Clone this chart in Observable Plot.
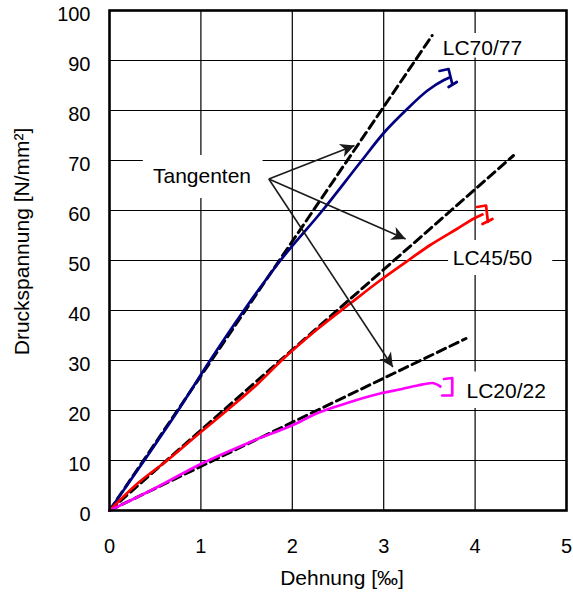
<!DOCTYPE html>
<html>
<head>
<meta charset="utf-8">
<script src="https://cdn.jsdelivr.net/npm/d3@7"></script>
<script src="https://cdn.jsdelivr.net/npm/@observablehq/plot@0.6"></script>
<style>
  body { margin: 0; background: #fff; }
  #chart svg { display: block; }
</style>
</head>
<body>
<div id="chart"></div>
<script>
// ---------- data ----------
const xTicks = [0, 1, 2, 3, 4, 5];
const yTicks = [0, 10, 20, 30, 40, 50, 60, 70, 80, 90, 100];
const xTitle = "Dehnung [‰]";
const yTitle = "Druckspannung [N/mm²]";

const seriesNames = ["LC70/77", "LC45/50", "LC20/22"];
const seriesColors = ["#000080", "#ff0000", "#ff00ff"];

// measured stress-strain curves
const lc70Strain = [0, 0.38, 0.75, 1.1, 1.47, 1.87, 2.33, 2.76, 3.0, 3.24, 3.48, 3.66, 3.72];
const lc70Stress = [0, 10, 20, 30, 40, 50, 60, 70, 75.5, 80, 84, 86.1, 86.6];
const lc45Strain = [0, 0.30, 0.63, 1.0, 1.29, 1.62, 1.87, 2.27, 2.64, 2.96, 3.29, 3.51, 3.80, 4.02, 4.08];
const lc45Stress = [0, 5.3, 10, 15.7, 20.1, 25.3, 29.8, 36.2, 41.5, 46.0, 50.3, 53.1, 56.3, 58.7, 59.2];
const lc20Strain = [0, 0.45, 1.0, 1.54, 2.09, 2.24, 2.6, 2.96, 3.2, 3.37, 3.53, 3.62];
const lc20Stress = [0, 4, 9.3, 13.7, 17.8, 19.2, 21.5, 23.4, 24.3, 25.0, 25.5, 24.8];

// end brackets of the curves (main hook and bottom tab)
const lc70HookStrain = [3.61, 3.71, 3.75];
const lc70HookStress = [87.9, 88.3, 85.3];
const lc70TabStrain = [3.71, 3.80];
const lc70TabStress = [84.7, 85.7];
const lc45HookStrain = [4.02, 4.12, 4.14];
const lc45HookStress = [60.7, 61.0, 57.7];
const lc45TabStrain = [4.08, 4.19];
const lc45TabStress = [57.3, 58.3];
const lc20HookStrain = [3.66, 3.75, 3.75, 3.64];
const lc20HookStress = [26.3, 26.5, 23.0, 23.0];

// tangents (start, end)
const tangentStrain = [[0, 3.53], [0, 4.42], [0, 3.90]];
const tangentStress = [[0, 95], [0, 71], [0, 34.4]];

// annotation "Tangenten" with arrows
const annText = "Tangenten";
const annAt = [1.012, 66.9];
const arrowFrom = [1.743, 66.3];
const arrowTipStrain = [2.68, 3.24, 3.10];
const arrowTipStress = [73, 54.3, 28.7];

// series labels
const labelStrain = [4.08, 4.19, 4.34];
const labelStress = [92.5, 50.5, 23.8];
// white boxes behind labels (x1, x2, y1, y2)
const boxX1 = [0.37, 3.6, 3.71, 3.85];
const boxX2 = [1.68, 4.6, 4.85, 4.85];
const boxY1 = [62.4, 90.5, 47, 20.4];
const boxY2 = [71, 95.4, 54, 27.7];

// ---------- build tables ----------
const zip = (xs, ys, extra) => xs.map((x, i) => ({x, y: ys[i], ...extra}));
const curves = [
  ...zip(lc70Strain, lc70Stress, {series: seriesNames[0]}),
  ...zip(lc45Strain, lc45Stress, {series: seriesNames[1]}),
  ...zip(lc20Strain, lc20Stress, {series: seriesNames[2]})
];
const hooks = [
  ...zip(lc70HookStrain, lc70HookStress, {series: seriesNames[0], part: "a70"}),
  ...zip(lc70TabStrain, lc70TabStress, {series: seriesNames[0], part: "b70"}),
  ...zip(lc45HookStrain, lc45HookStress, {series: seriesNames[1], part: "a45"}),
  ...zip(lc45TabStrain, lc45TabStress, {series: seriesNames[1], part: "b45"}),
  ...zip(lc20HookStrain, lc20HookStress, {series: seriesNames[2], part: "a20"})
];
const tangents = tangentStrain.flatMap((xs, i) => zip(xs, tangentStress[i], {series: seriesNames[i]}));
const labels = seriesNames.map((s, i) => ({x: labelStrain[i], y: labelStress[i], text: s}));
const boxes = boxX1.map((_, i) => ({x1: boxX1[i], x2: boxX2[i], y1: boxY1[i], y2: boxY2[i]}));

// ---------- layout ----------
const W = 573, H = 594, ML = 109, MR = 7, MT = 10, MB = 84;
const kx = (W - ML - MR) / (xTicks[xTicks.length - 1] - xTicks[0]);
const ky = (H - MT - MB) / (yTicks[yTicks.length - 1] - yTicks[0]);
const arrows = arrowTipStrain.map((tx, i) => {
  const sx = (tx - arrowFrom[0]) * kx;
  const sy = -(arrowTipStress[i] - arrowFrom[1]) * ky;
  return {x1: arrowFrom[0], y1: arrowFrom[1], x2: tx, y2: arrowTipStress[i],
          angle: Math.atan2(sx, -sy) * 180 / Math.PI};
});

// filled barbed arrow head, tip at the origin pointing up
const arrowHead = {
  draw(ctx, size) {
    const L = Math.sqrt(size / Math.PI);
    ctx.moveTo(0, 0);
    ctx.lineTo(-0.5 * L, L);
    ctx.lineTo(0, 0.72 * L);
    ctx.lineTo(0.5 * L, L);
    ctx.closePath();
  }
};

const font = "'Liberation Sans', Arial, Helvetica, sans-serif";

const plot = Plot.plot({
  width: W, height: H,
  marginLeft: ML, marginRight: MR, marginTop: MT, marginBottom: MB,
  style: {fontFamily: font, fontSize: "20px", color: "#000", background: "#fff"},
  x: {domain: [0, 5]},
  y: {domain: [0, 100]},
  color: {domain: seriesNames, range: seriesColors},
  marks: [
    Plot.gridY(yTicks.slice(1, -1), {stroke: "#000", strokeOpacity: 1, strokeWidth: 1.2}),
    Plot.gridX(xTicks.slice(1, -1), {stroke: "#000", strokeOpacity: 1, strokeWidth: 1.2}),
    Plot.rect(boxes, {x1: "x1", x2: "x2", y1: "y1", y2: "y2", fill: "#fff"}),
    Plot.line(tangents, {x: "x", y: "y", z: "series", stroke: "#000", strokeWidth: 3, strokeDasharray: "9,5"}),
    Plot.line(curves, {x: "x", y: "y", z: "series", stroke: "series", strokeWidth: 2.7, curve: "monotone-x"}),
    Plot.line(hooks, {x: "x", y: "y", z: "part", stroke: "series", strokeWidth: 2.7}),
    Plot.link(arrows, {x1: "x1", y1: "y1", x2: "x2", y2: "y2", stroke: "#1a1a1a", strokeWidth: 1.6}),
    Plot.dot(arrows, {x: "x2", y: "y2", rotate: "angle", symbol: arrowHead, r: 14, fill: "#1a1a1a", stroke: "none"}),
    Plot.text([annText], {x: annAt[0], y: annAt[1], text: d => d, fontSize: 21, textAnchor: "middle", lineAnchor: "middle", fill: "#000"}),
    Plot.text(labels, {x: "x", y: "y", text: "text", fontSize: 21, textAnchor: "middle", lineAnchor: "middle", fill: "#000"}),
    Plot.axisY(yTicks, {tickSize: 0, tickPadding: 19, dy: 4, label: null, fontSize: 20}),
    Plot.axisX(xTicks, {tickSize: 0, tickPadding: 28, label: null, fontSize: 20}),
    Plot.text([yTitle], {frameAnchor: "left", text: d => d, rotate: -90, dx: -87, dy: -19, fontSize: 21, lineAnchor: "middle", textAnchor: "middle"}),
    Plot.text([xTitle], {frameAnchor: "bottom", text: d => d, dx: 4, dy: 68, fontSize: 21, lineAnchor: "middle", textAnchor: "middle"}),
    Plot.frame({stroke: "#000", strokeWidth: 2.6})
  ]
});
document.getElementById("chart").appendChild(plot);
</script>
</body>
</html>
